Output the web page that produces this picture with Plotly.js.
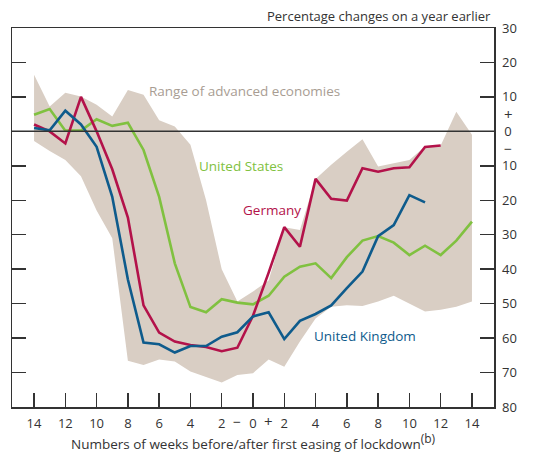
<!DOCTYPE html>
<html>
<head>
<meta charset="utf-8">
<script src="https://cdn.plot.ly/plotly-3.0.1.min.js"></script>
<style>html,body{margin:0;padding:0;background:#fff;}#chart{width:533px;height:454px;}</style>
</head>
<body>
<div id="chart"></div>
<script>
// Weeks before (negative) / after (positive) first easing of lockdown
const weeks = [-14,-13,-12,-11,-10,-9,-8,-7,-6,-5,-4,-3,-2,-1,0,1,2,3,4,5,6,7,8,9,10,11,12,13,14];

const unitedKingdom = [1, 0.3, 6, 2, -4.5, -19, -43, -61.3, -61.8, -64.2, -62.3, -62.3, -59.6, -58.3, -53.7, -52.5, -60.3, -55, -53, -50.5, -45.5, -40.7, -30.4, -27.2, -18.5, -20.6, null, null, null];
const germany = [2, 0, -3.5, 10, 0, -11, -25, -50.5, -58.4, -61, -62, -62.6, -63.8, -62.8, -53.5, -41, -27.8, -33.5, -13.8, -19.6, -20.1, -10.7, -11.7, -10.7, -10.4, -4.5, -4.1, null, null];
const unitedStates = [4.8, 6.5, 0.2, 0.2, 3.5, 1.6, 2.5, -5.4, -19, -38.3, -51, -52.5, -48.7, -49.7, -50.2, -47.7, -42.2, -39.3, -38.3, -42.6, -36.5, -31.7, -30.4, -32.3, -35.9, -33.2, -35.9, -31.7, -26.2];

const rangeHigh = [16.4, 7.2, 11.2, 10.1, 7.7, 4.3, 12, 10.6, 3.2, 1.4, -3.9, -20, -40, -49.4, -46.5, -43.3, -27.8, -28.6, -13.8, -9.7, -5.9, -2.3, -10.2, -9.3, -8.3, -4.4, -4.1, 5.7, -1];
const rangeLow = [-2.8, -5.7, -8.3, -13, -23, -31, -66.6, -67.8, -66.2, -66.8, -69.7, -71.4, -72.9, -70.7, -70.2, -66.2, -68.3, -61, -54.3, -50.9, -50.5, -50.7, -49.4, -47.7, -49.9, -52.3, -51.8, -50.9, -49.4];

const xTickVals = [-14,-12,-10,-8,-6,-4,-2,0,2,4,6,8,10,12,14];
const xTickText = ["14","12","10","8","6","4","2","0","2","4","6","8","10","12","14"];
const yTickVals = [30,20,10,0,-10,-20,-30,-40,-50,-60,-70,-80];
const yTickText = ["30","20","10","\u20090","10","20","30","40","50","60","70","80"];

const FONT = "Open Sans, Noto Sans, sans-serif";
const TXT = "#333333";
const C_UK = "#0e5b8c";
const C_DE = "#b3124a";
const C_US = "#80c140";
const C_BAND = "#d9cec4";

const traces = [
  {x: weeks, y: rangeLow, mode: "lines", line: {width: 0, color: C_BAND}, hoverinfo: "skip", showlegend: false},
  {x: weeks, y: rangeHigh, mode: "lines", fill: "tonexty", fillcolor: C_BAND, line: {width: 0, color: C_BAND}, showlegend: false},
  {x: weeks, y: unitedStates, mode: "lines", line: {color: C_US, width: 2.6}, showlegend: false},
  {x: weeks, y: germany, mode: "lines", line: {color: C_DE, width: 2.6}, showlegend: false},
  {x: weeks, y: unitedKingdom, mode: "lines", line: {color: C_UK, width: 2.6}, showlegend: false}
];

const layout = {
  width: 533, height: 454,
  margin: {l: 12, r: 39, t: 28, b: 47},
  paper_bgcolor: "#fff", plot_bgcolor: "#fff",
  font: {family: FONT, size: 13, color: TXT},
  showlegend: false,
  xaxis: {
    range: [-15.41, 15.41], fixedrange: true,
    tickvals: xTickVals, ticktext: xTickText,
    ticks: "inside", ticklen: 14, tickwidth: 1.5, tickcolor: TXT,
    showline: true, linecolor: TXT, linewidth: 1.5, mirror: true,
    showgrid: false, zeroline: false,
    tickfont: {family: FONT, size: 13, color: TXT},
    ticklabelstandoff: 4
  },
  yaxis: {
    range: [-80, 30], fixedrange: true, side: "right",
    tickvals: yTickVals, ticktext: yTickText,
    ticks: "inside", ticklen: 14, tickwidth: 1.5, tickcolor: TXT,
    showline: true, linecolor: TXT, linewidth: 1.5, mirror: "ticks",
    showgrid: false, zeroline: false,
    tickfont: {family: FONT, size: 13, color: TXT},
    ticklabelstandoff: 4
  },
  shapes: [
    {type: "line", xref: "paper", x0: 0, x1: 1, yref: "y", y0: 0, y1: 0, line: {color: TXT, width: 1.5}, layer: "above"}
  ],
  annotations: [
    {xref: "paper", yref: "paper", x: 0.997, y: 1.032, xanchor: "right", yanchor: "middle", text: "Percentage changes on a year earlier", showarrow: false, font: {family: FONT, size: 13, color: TXT}},
    {xref: "paper", yref: "paper", x: 0.5, y: -0.092, xanchor: "center", yanchor: "middle", text: "Numbers of weeks before/after first easing of lockdown<sup><span style=\"font-size:12px\">(b)</span></sup>", showarrow: false, font: {family: FONT, size: 13.5, color: TXT}},
    {xref: "x", yref: "paper", x: -1, y: -0.038, xanchor: "center", yanchor: "middle", text: "\u2212", showarrow: false, font: {family: FONT, size: 14, color: TXT}},
    {xref: "x", yref: "paper", x: 1, y: -0.038, xanchor: "center", yanchor: "middle", text: "+", showarrow: false, font: {family: FONT, size: 15, color: TXT}},
    {xref: "paper", yref: "y", x: 1.03, y: 5, xanchor: "center", yanchor: "middle", text: "+", showarrow: false, font: {family: FONT, size: 15, color: TXT}},
    {xref: "paper", yref: "y", x: 1.03, y: -5, xanchor: "center", yanchor: "middle", text: "\u2212", showarrow: false, font: {family: FONT, size: 14, color: TXT}},
    {xref: "x", yref: "y", x: -0.52, y: 11.8, xanchor: "center", yanchor: "middle", text: "Range of advanced economies", showarrow: false, font: {family: FONT, size: 13.5, color: "#a89d93"}},
    {xref: "x", yref: "y", x: -0.74, y: -10, xanchor: "center", yanchor: "middle", text: "United States", showarrow: false, font: {family: FONT, size: 13.5, color: C_US}},
    {xref: "x", yref: "y", x: 1.24, y: -22.8, xanchor: "center", yanchor: "middle", text: "Germany", showarrow: false, font: {family: FONT, size: 13.5, color: C_DE}},
    {xref: "x", yref: "y", x: 7.18, y: -59.3, xanchor: "center", yanchor: "middle", text: "United Kingdom", showarrow: false, font: {family: FONT, size: 13.5, color: C_UK}}
  ]
};

Plotly.newPlot("chart", traces, layout, {displayModeBar: false, staticPlot: true});
</script>
</body>
</html>
